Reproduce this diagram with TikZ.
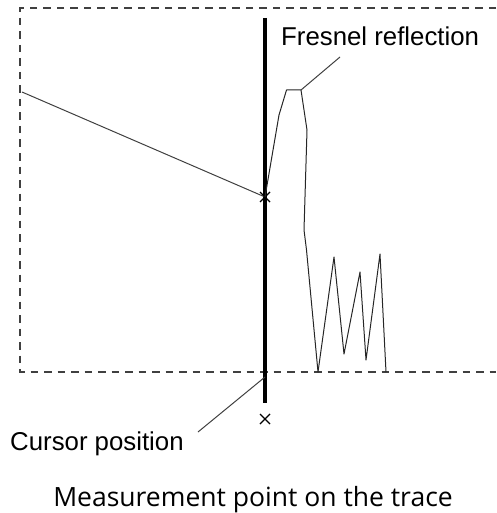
\documentclass[tikz,border=0pt]{standalone}
\usepackage{fontspec}
\usetikzlibrary{calc}
\setmainfont{Liberation Sans}
\newfontfamily\capfont{Open Sans}
\begin{document}
\begin{tikzpicture}[x=1pt,y=-1pt,
  frame/.style={draw=black!75, line width=1.8pt, dash pattern=on 7.5pt off 6pt},
  thin/.style={draw=black!75, line width=1pt},
  trace/.style={draw=black!85, line width=1pt, line join=round},
  cursor/.style={draw=black, line width=4pt},
  lbl/.style={font=\fontsize{25.8}{28}\selectfont, inner sep=0pt, anchor=base west},
  capt/.style={font=\capfont\fontsize{26.5}{30}\selectfont, inner sep=0pt, anchor=base}]
\useasboundingbox (0,0) rectangle (496,513);
% dashed frame
\coordinate (tl) at (20,8);
\coordinate (tr) at (496,8);
\coordinate (bl) at (20,372);
\coordinate (br) at (496,372);
\draw[frame] (tr) -- (tl) -- (bl) -- (br);
% cursor line
\coordinate (ctop) at (265,18);
\coordinate (cbot) at (265,403);
\draw[cursor] (ctop) -- (cbot);
% measurement point
\coordinate (mp) at (265,197);
\coordinate (lstart) at (22,92);
\draw[thin] (lstart) -- (mp);
\draw[black, line width=1.2pt] ($(mp)+(-5,-5)$) -- ($(mp)+(5,5)$) ($(mp)+(-5,5)$) -- ($(mp)+(5,-5)$);
% trace
\coordinate (pk) at (301,90);
\draw[trace] (mp) -- (279,115) -- (286.5,90) -- (pk) -- (307,130) -- (304,230) -- (306.5,250)
  -- (318,372) -- (334,257) -- (344,354) -- (360,272) -- (366,360) -- (380,254) -- (386,372);
% bottom x
\coordinate (bx) at (265,419);
\draw[black, line width=1.1pt] ($(bx)+(-5,-5)$) -- ($(bx)+(5,5)$) ($(bx)+(-5,5)$) -- ($(bx)+(5,-5)$);
% labels
\node[lbl] (fres) at (281,46) {Fresnel reflection};
\coordinate (fl) at (340,57);
\draw[thin] (pk) -- (fl);
\node[lbl] (curs) at (10,450) {Cursor position};
\coordinate (cl) at (198,432);
\coordinate (cb) at (265,377);
\draw[thin] (cl) -- (cb);
\node[capt] (cap) at (253,506) {Measurement point on the trace};
\end{tikzpicture}
\end{document}
